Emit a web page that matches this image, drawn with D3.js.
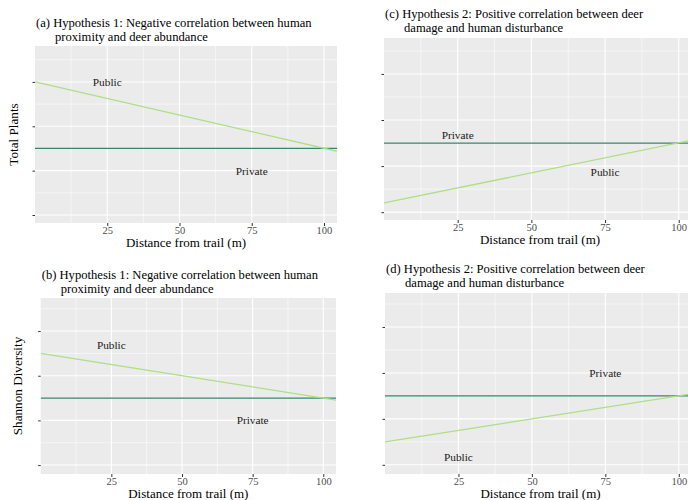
<!DOCTYPE html>
<html>
<head>
<meta charset="utf-8">
<script src="https://cdn.jsdelivr.net/npm/d3@7"></script>
<style>
  body { margin: 0; background: #fff; }
  text { font-family: "Liberation Serif", "Times New Roman", serif; }
</style>
</head>
<body>
<script>
// chart values (all panels share the same unlabelled y ticks)
var xTicks = [25, 50, 75, 100];
var xMinor = [12.5, 37.5, 62.5, 87.5];
var yTicks = [1, 2, 3, 4];
var yMinor = [1.5, 2.5, 3.5, 4.5];
var lineX = [0, 105];

var publicA = [4.0, 2.43];
var privateA = [2.5, 2.5];
var publicB = [3.5, 2.45];
var privateB = [2.5, 2.5];
var publicC = [1.2, 2.57];
var privateC = [2.5, 2.5];
var publicD = [1.5, 2.55];
var privateD = [2.5, 2.5];

// label anchors [x, y] in data units
var publicLabA = [25, 4.0], privateLabA = [75, 2.0];
var publicLabB = [25, 3.69], privateLabB = [75, 2.0];
var publicLabC = [75, 1.87], privateLabC = [25, 2.67];
var publicLabD = [25, 1.17], privateLabD = [75, 3.0];

var titlesA = ["(a) Hypothesis 1: Negative correlation between human", "proximity and deer abundance"];
var titlesB = ["(b) Hypothesis 1: Negative correlation between human", "proximity and deer abundance"];
var titlesC = ["(c) Hypothesis 2: Positive correlation between deer", "damage and human disturbance"];
var titlesD = ["(d) Hypothesis 2: Positive correlation between deer", "damage and human disturbance"];

var xTitle = "Distance from trail (m)";

var w = 688, h = 500;
var svg = d3.select("body").append("svg").attr("width", w).attr("height", h);

var publicColor = "#addf84";
var privateColor = "#32866a";

//layout of each panel in pixels
var panels = [
  {id: "a", l: 35, r: 337, t: 46, b: 223, yd: [0.82, 4.81], title: titlesA, t1: 26.6,
   pub: publicA, pri: privateA, pubLab: publicLabA, priLab: privateLabA, ytitle: "Total Plants", yx: 13},
  {id: "b", l: 40.7, r: 336, t: 298, b: 474, yd: [0.80, 4.74], title: titlesB, t1: 278.6,
   pub: publicB, pri: privateB, pubLab: publicLabB, priLab: privateLabB, ytitle: "Shannon Diversity", yx: 17},
  {id: "c", l: 384, r: 692, t: 38, b: 220, yd: [0.83, 4.78], title: titlesC, t1: 18,
   pub: publicC, pri: privateC, pubLab: publicLabC, priLab: privateLabC, ytitle: "", yx: 0},
  {id: "d", l: 385, r: 692, t: 293, b: 474, yd: [0.80, 4.74], title: titlesD, t1: 273.4,
   pub: publicD, pri: privateD, pubLab: publicLabD, priLab: privateLabD, ytitle: "", yx: 0}
];

panels.forEach(function (p) {
  var x = d3.scaleLinear().domain([0, 104.5]).range([p.l, p.r]);
  var y = d3.scaleLinear().domain(p.yd).range([p.b, p.t]);
  var g = svg.append("g");

  //grey background
  g.append("rect").attr("x", p.l).attr("y", p.t)
    .attr("width", p.r - p.l).attr("height", p.b - p.t).attr("fill", "#ebebeb");

  g.append("clipPath").attr("id", "clip-" + p.id).append("rect")
    .attr("x", p.l).attr("y", p.t).attr("width", p.r - p.l).attr("height", p.b - p.t);

  //minor grid
  g.selectAll(".vminor").data(xMinor).enter().append("line")
    .attr("x1", d => x(d)).attr("x2", d => x(d)).attr("y1", p.t).attr("y2", p.b)
    .attr("stroke", "#fff").attr("stroke-width", 0.55);
  g.selectAll(".hminor").data(yMinor.filter(d => d > p.yd[0] && d < p.yd[1])).enter().append("line")
    .attr("x1", p.l).attr("x2", p.r).attr("y1", d => y(d)).attr("y2", d => y(d))
    .attr("stroke", "#fff").attr("stroke-width", 0.55);
  //major grid
  g.selectAll(".vmajor").data(xTicks).enter().append("line")
    .attr("x1", d => x(d)).attr("x2", d => x(d)).attr("y1", p.t).attr("y2", p.b)
    .attr("stroke", "#fff").attr("stroke-width", 1.1);
  g.selectAll(".hmajor").data(yTicks).enter().append("line")
    .attr("x1", p.l).attr("x2", p.r).attr("y1", d => y(d)).attr("y2", d => y(d))
    .attr("stroke", "#fff").attr("stroke-width", 1.1);

  //axes
  var xa = g.append("g").attr("transform", "translate(0," + p.b + ")")
    .call(d3.axisBottom(x).tickValues(xTicks).tickSize(3));
  xa.select(".domain").remove();
  xa.selectAll("line").attr("stroke", "#333");
  xa.selectAll("text").attr("y", 10.8).attr("dy", null).attr("fill", "#4d4d4d")
    .style("font-size", "10.5px").style("font-family", '"Liberation Serif", serif');

  var ya = g.append("g").attr("transform", "translate(" + p.l + ",0)")
    .call(d3.axisLeft(y).tickValues(yTicks).tickSize(2.5).tickFormat(""));
  ya.select(".domain").remove();
  ya.selectAll("line").attr("stroke", "#333");

  //fitted lines
  var line = d3.line().x((d, i) => x(lineX[i])).y(d => y(d));
  var lg = g.append("g").attr("clip-path", "url(#clip-" + p.id + ")");
  lg.append("path").datum(p.pri).attr("d", line).attr("fill", "none")
    .attr("stroke", privateColor).attr("stroke-width", 1.3);
  lg.append("path").datum(p.pub).attr("d", line).attr("fill", "none")
    .attr("stroke", publicColor).attr("stroke-width", 1.3);

  //labels
  [["Public", p.pubLab], ["Private", p.priLab]].forEach(function (lab) {
    g.append("text").attr("x", x(lab[1][0])).attr("y", y(lab[1][1]))
      .attr("text-anchor", "middle").attr("dominant-baseline", "central")
      .style("font-size", "11.3px").attr("fill", "#1a1a1a").text(lab[0]);
  });

  //panel title (two lines)
  g.append("text").attr("x", p.l + 1).attr("y", p.t1).style("font-size", "12.6px").text(p.title[0]);
  g.append("text").attr("x", p.l + 20).attr("y", p.t1 + 14).style("font-size", "12.6px").text(p.title[1]);

  //x title
  g.append("text").attr("x", (p.l + Math.min(p.r, 688)) / 2 + (p.r > 688 ? 4 : 0)).attr("y", p.b + 24.3)
    .attr("text-anchor", "middle").style("font-size", "13px").text(xTitle);

  if (p.ytitle) {
    g.append("text").attr("transform", "translate(" + p.yx + "," + (p.t + p.b) / 2 + ") rotate(-90)")
      .attr("text-anchor", "middle").attr("dominant-baseline", "central")
      .style("font-size", "13.2px").text(p.ytitle);
  }
});
</script>
</body>
</html>
